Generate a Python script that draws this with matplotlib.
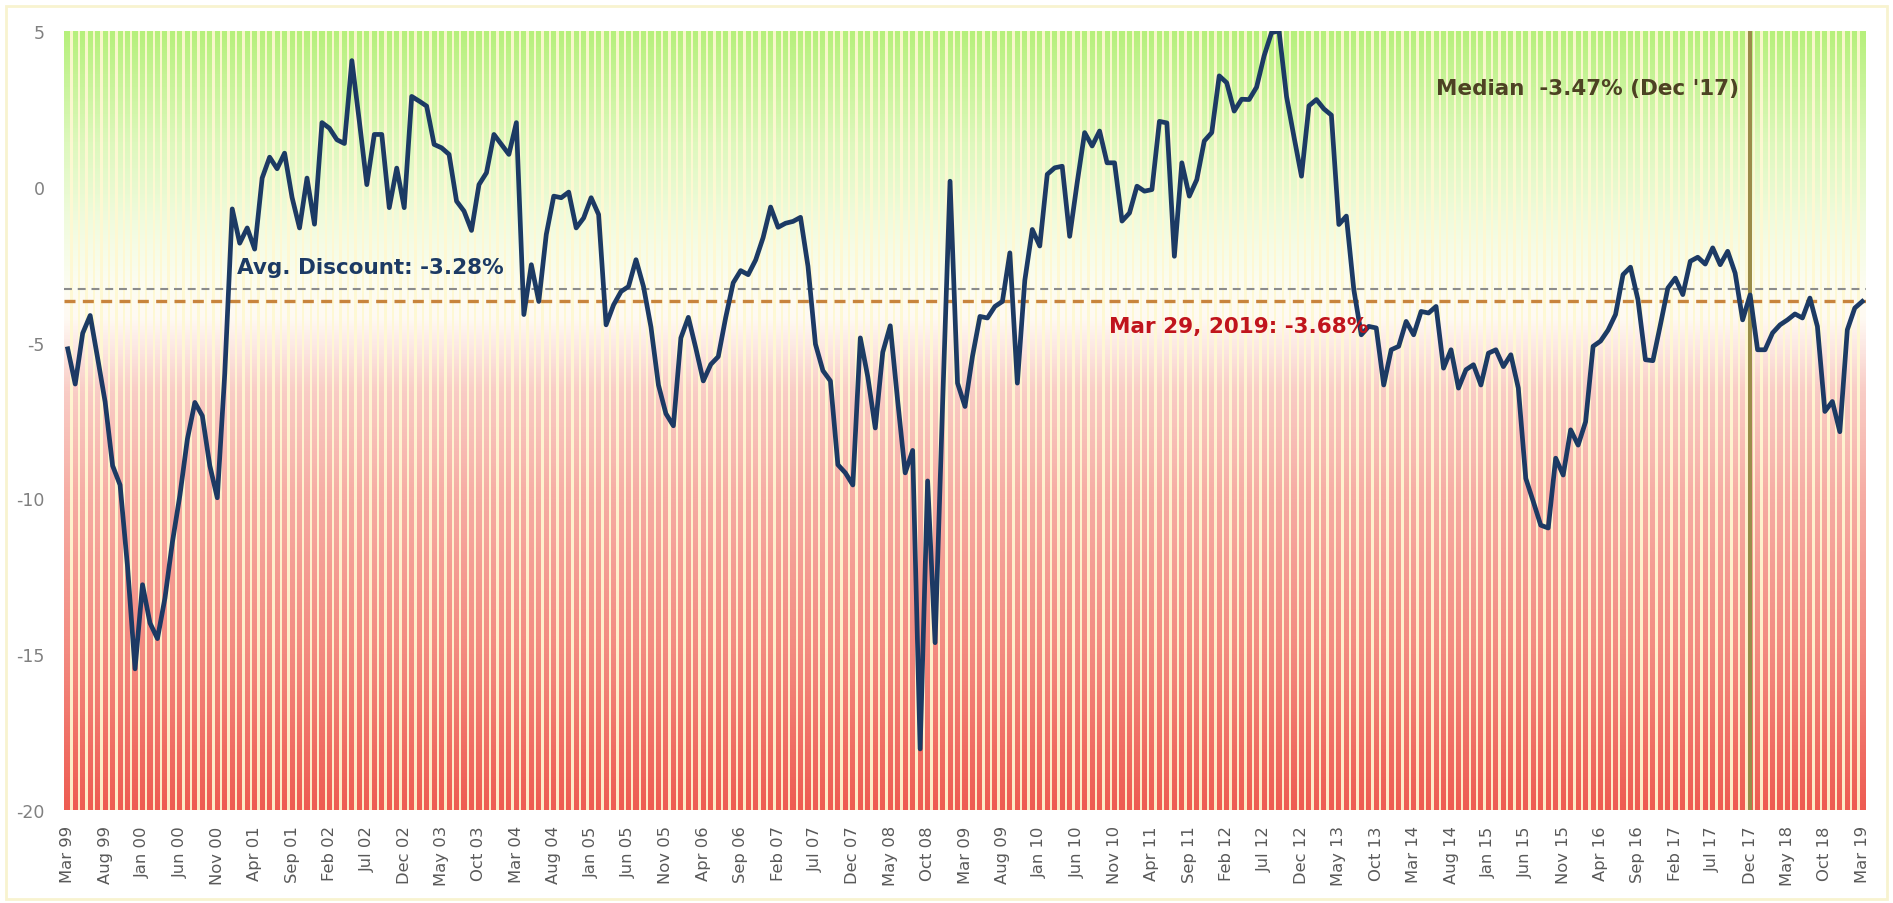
import matplotlib
matplotlib.use("Agg")
import matplotlib.pyplot as plt
import numpy as np
from matplotlib.colors import LinearSegmentedColormap
from matplotlib.patches import Rectangle

plt.rcParams["font.family"] = "DejaVu Sans"
plt.rcParams["axes.unicode_minus"] = False

# Datos: descuento mensual (%), Mar 99 .. Mar 19
discount = [
    -5.2, -6.33, -4.7, -4.13, -5.5, -6.9, -8.95, -9.57, -12.2, -15.47, -12.77, -14.0,
    -14.5, -13.2, -11.4, -9.9, -8.1, -6.92, -7.35, -8.95, -9.98, -6.0, -0.71, -1.81,
    -1.32, -2.0, 0.28, 0.95, 0.58, 1.08, -0.34, -1.32, 0.28, -1.2, 2.06, 1.88,
    1.51, 1.39, 4.05, 2.1, 0.07, 1.68, 1.68, -0.67, 0.6, -0.67, 2.9, 2.75,
    2.59, 1.36, 1.25, 1.04, -0.46, -0.78, -1.4, 0.07, 0.45, 1.68, 1.36, 1.04,
    2.06, -4.1, -2.5, -3.68, -1.53, -0.3, -0.35, -0.17, -1.32, -1.0, -0.35, -0.89,
    -4.43, -3.79, -3.36, -3.2, -2.34, -3.2, -4.5, -6.36, -7.28, -7.67, -4.85, -4.19,
    -5.18, -6.23, -5.7, -5.45, -4.19, -3.08, -2.69, -2.82, -2.35, -1.63, -0.65, -1.3,
    -1.17, -1.11, -0.98, -2.55, -5.05, -5.9, -6.23, -8.92, -9.18, -9.57, -4.85, -6.1,
    -7.74, -5.31, -4.46, -6.88, -9.18, -8.46, -18.04, -9.44, -14.63, -7.0, 0.18, -6.3,
    -7.05, -5.44, -4.16, -4.21, -3.84, -3.68, -2.12, -6.3, -3.0, -1.37, -1.9, 0.4,
    0.61, 0.66, -1.59, 0.13, 1.74, 1.31, 1.79, 0.77, 0.77, -1.1, -0.84, 0.02,
    -0.14, -0.09, 2.1, 2.05, -2.23, 0.77, -0.3, 0.23, 1.47, 1.74, 3.56, 3.34,
    2.43, 2.81, 2.8, 3.2, 4.2, 4.95, 5.0, 2.9, 1.6, 0.34, 2.6, 2.8,
    2.5, 2.3, -1.21, -0.94, -3.3, -4.75, -4.48, -4.53, -6.36, -5.23, -5.12, -4.32,
    -4.75, -4.0, -4.05, -3.84, -5.82, -5.23, -6.46, -5.87, -5.71, -6.36, -5.34, -5.23,
    -5.77, -5.39, -6.46, -9.36, -10.1, -10.86, -10.95, -8.71, -9.25, -7.8, -8.29, -7.54,
    -5.12, -4.95, -4.6, -4.1, -2.82, -2.58, -3.62, -5.55, -5.58, -4.43, -3.25, -2.93,
    -3.46, -2.39, -2.26, -2.48, -1.96, -2.5, -2.07, -2.77, -4.27, -3.47, -5.23, -5.23,
    -4.69, -4.43, -4.27, -4.08, -4.21, -3.57, -4.48, -7.21, -6.89, -7.86, -4.59, -3.89,
    -3.68,
]

tick_labels = [
    "Mar 99", "Aug 99", "Jan 00", "Jun 00", "Nov 00", "Apr 01", "Sep 01", "Feb 02",
    "Jul 02", "Dec 02", "May 03", "Oct 03", "Mar 04", "Aug 04", "Jan 05", "Jun 05",
    "Nov 05", "Apr 06", "Sep 06", "Feb 07", "Jul 07", "Dec 07", "May 08", "Oct 08",
    "Mar 09", "Aug 09", "Jan 10", "Jun 10", "Nov 10", "Apr 11", "Sep 11", "Feb 12",
    "Jul 12", "Dec 12", "May 13", "Oct 13", "Mar 14", "Aug 14", "Jan 15", "Jun 15",
    "Nov 15", "Apr 16", "Sep 16", "Feb 17", "Jul 17", "Dec 17", "May 18", "Oct 18",
    "Mar 19",
]
y_ticks = [5, 0, -5, -10, -15, -20]

avg_discount = -3.28
latest_discount = -3.68
median_month = "Dec 17"

x = np.arange(len(discount))
median_idx = tick_labels.index(median_month) * 5

W, H = 1893, 904
fig = plt.figure(figsize=(W / 100, H / 100), dpi=100)
ax = fig.add_axes([64 / W, 1 - 811 / H, (1866 - 64) / W, (811 - 32) / H])

# fondo degradado (verde arriba, rojo abajo)
stops = [(-20, "#ee5c52"), (-15, "#f3897f"), (-10, "#f6aca3"), (-6.5, "#f9cdc6"),
         (-5.2, "#fce6e1"), (-4.2, "#fffaf3"), (-3.0, "#fcfdf0"), (-1.0, "#f0fbdd"),
         (1.5, "#ddf8bc"), (5, "#b6f07c")]
cmap = LinearSegmentedColormap.from_list("bg", [((v + 20) / 25, c) for v, c in stops])
grad = np.linspace(0, 1, 600).reshape(-1, 1)
ax.imshow(grad, cmap=cmap, aspect="auto", origin="lower",
          extent=[-0.5, len(x) - 0.5, -20, 5], interpolation="bilinear", zorder=0)

# separaciones entre columnas
ax.bar(x[:-1] + 0.5, 25, bottom=-20, width=0.32, color="#fff8d2", alpha=0.92,
       linewidth=0, zorder=1)

# lineas de referencia
ax.axhline(avg_discount, color="#8c8c8c", lw=1.5, ls=(0, (3.8, 2.8)), zorder=2)
ax.axhline(latest_discount, color="#c8843c", lw=2.4, ls=(0, (3.3, 2.2)), zorder=2)
ax.axvline(median_idx, color="#9a8c4a", lw=2.9, zorder=2)

# serie
ax.plot(x, discount, color="#1c3a64", lw=3.4, zorder=3)

# textos
ax.text(22.6, -2.57, "Avg. Discount: -3.28%", color="#1c3a64", fontsize=15.5,
        fontweight="bold", ha="left", va="center", zorder=4)
ax.text(139.3, -4.47, "Mar 29, 2019: -3.68%", color="#c0141c", fontsize=15.5,
        fontweight="bold", ha="left", va="center", zorder=4)
ax.text(223.5, 3.17, "Median  -3.47% (Dec '17)", color="#4d4223", fontsize=15.5,
        fontweight="bold", ha="right", va="center", zorder=4)

# ejes
ax.set_xlim(-0.5, len(x) - 0.5)
ax.set_ylim(-20, 5)
ax.set_xticks(x[::5])
ax.set_xticklabels(tick_labels, rotation=90, fontsize=11.8, color="#595959")
ax.set_yticks(y_ticks)
ax.set_yticklabels([str(t) for t in y_ticks], fontsize=12.5, color="#808080")
ax.tick_params(axis="x", length=0, pad=11)
ax.tick_params(axis="y", length=0, pad=14)
for s in ax.spines.values():
    s.set_visible(False)

# marco exterior
fig.patches.append(Rectangle((0.003, 0.004), 0.994, 0.988, transform=fig.transFigure,
                             fill=False, edgecolor="#f8f3cf", lw=2))

plt.savefig("out.png", dpi=100)
